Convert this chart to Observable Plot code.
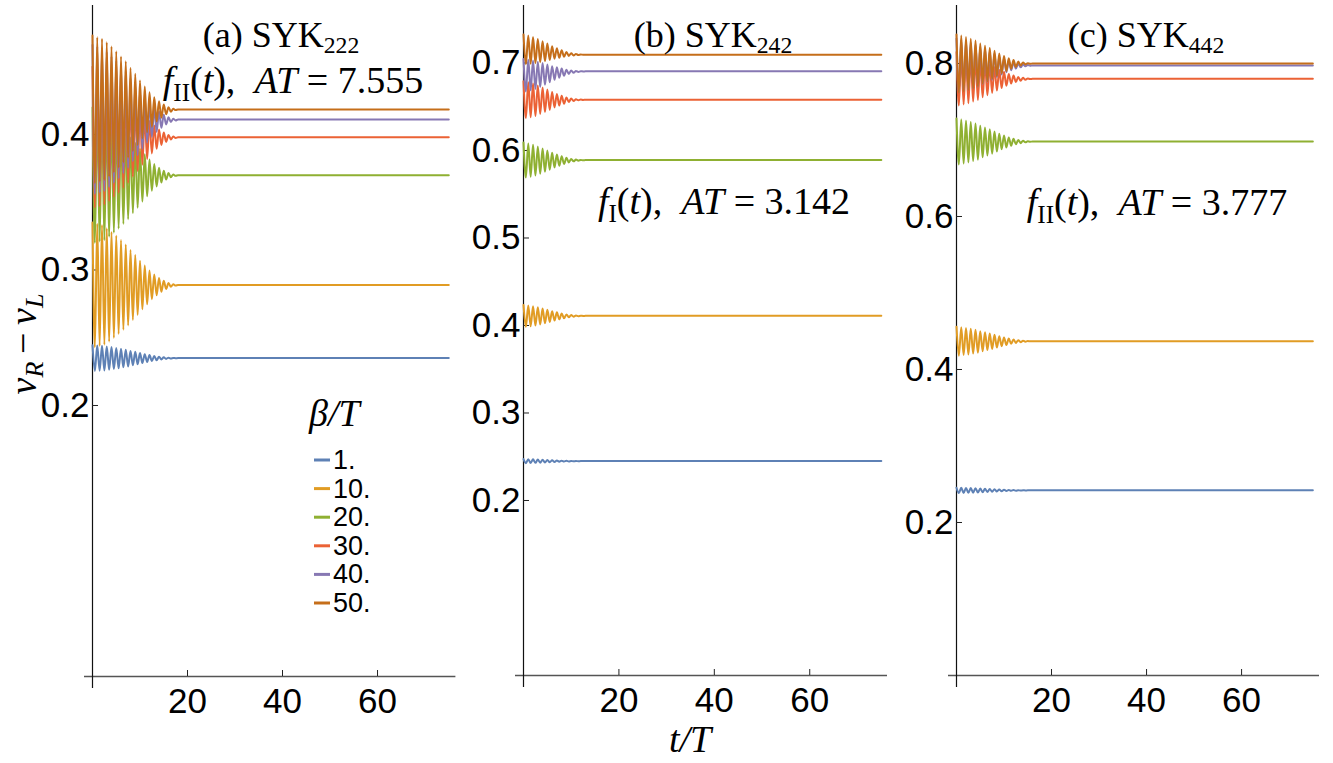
<!DOCTYPE html>
<html>
<head>
<meta charset="utf-8">
<script src="https://cdn.jsdelivr.net/npm/d3@7"></script>
<script src="https://cdn.jsdelivr.net/npm/@observablehq/plot@0.6"></script>
<style>
  html, body { margin: 0; padding: 0; background: #fff; }
  #wrap { position: relative; width: 1333px; height: 763px; overflow: hidden; background: #fff; }
  #wrap svg { position: absolute; left: 0; top: 0; }
</style>
</head>
<body>
<div id="wrap"></div>
<script>
// ---------- data ----------
const betas = ["1.", "10.", "20.", "30.", "40.", "50."];
const colors = ["#5E81B5", "#E19C24", "#8FB032", "#EB6235", "#8778B3", "#C56E1A"];
const xTicks = [20, 40, 60];
const tEnd = 75;

// Panel (a) SYK222 : steady values, oscillation peaks (at t = k) and troughs (at t = k + 1/2)
const aFinal = [0.235, 0.289, 0.370, 0.398, 0.411, 0.4185];
const aHi = [
  [.2445,.2443,.2441,.2436,.2431,.2425,.2418,.2412,.2403,.2396,.2387,.2379,.2372,.2366,.2360,.2356,.2353,.2351],
  [.335,.3341,.3332,.3309,.3281,.3253,.3221,.3189,.3148,.3111,.3069,.3033,.2996,.2966,.2941,.292,.2904,.2895],
  [.42,.419,.418,.4155,.4125,.4095,.406,.4025,.398,.394,.3895,.3855,.3815,.3783,.3755,.3733,.3715,.3705],
  [.45,.449,.4479,.4453,.4422,.4391,.4354,.4318,.4271,.423,.4183,.4141,.41,.4066,.4037,.4014,.3996,.3985],
  [.466,.4649,.4638,.461,.4578,.4545,.4506,.4468,.4418,.4374,.4325,.4281,.4237,.4201,.4171,.4146,.4127,.4116],
  [.473,.4718,.4706,.4681,.465,.4615,.4576,.4541,.4492,.4448,.4399,.4354,.4312,.4275,.4246,.4221,.4202,.419]
];
const aLo = [
  [.2255,.2257,.2259,.2264,.2269,.2275,.2282,.2288,.2297,.2304,.2313,.2321,.2328,.2334,.2340,.2344,.2347,.2349],
  [.243,.2439,.2448,.2471,.2499,.2527,.2559,.2591,.2632,.2669,.2711,.2747,.2784,.2814,.2839,.286,.2876,.2885],
  [.32,.321,.322,.3245,.3275,.3305,.334,.3375,.342,.346,.3505,.3545,.3585,.3617,.3645,.3667,.3685,.3695],
  [.346,.347,.3481,.3507,.3538,.3569,.3606,.3642,.3689,.373,.3777,.3819,.386,.3894,.3923,.3946,.3964,.3975],
  [.356,.3571,.3582,.361,.3642,.3675,.3714,.3752,.3802,.3846,.3895,.3939,.3983,.4019,.4049,.4074,.4093,.4104],
  [.364,.3652,.3664,.3689,.372,.3755,.3794,.3829,.3878,.3922,.3971,.4016,.4058,.4095,.4124,.4149,.4168,.418]
];
const aYTicks = [0.2, 0.3, 0.4];

// Panel (b) SYK242
const bFinal = [0.245, 0.411, 0.589, 0.658, 0.6905, 0.7095];
const bHi = [
  [.2473,.2472,.247,.2468,.2465,.2463,.246,.2457,.2455,.2453,.2452,.2451,.245],
  [.4235,.4229,.422,.4208,.4194,.4179,.4163,.415,.4138,.4126,.4119,.4114,.4111],
  [.609,.608,.6066,.6046,.6024,.6,.5974,.5954,.5934,.5916,.5904,.5896,.5892],
  [.679,.678,.6765,.6744,.6721,.6696,.6668,.6647,.6626,.6607,.6595,.6586,.6582],
  [.7045,.7038,.7028,.7014,.6999,.6982,.6964,.695,.6936,.6923,.6915,.6909,.6906],
  [.7325,.7314,.7297,.7274,.7249,.7222,.7192,.7169,.7146,.7125,.7111,.7102,.7097]
];
const bLo = [
  [.2427,.2428,.243,.2432,.2435,.2437,.244,.2443,.2445,.2447,.2448,.2449,.245],
  [.3985,.3991,.4,.4012,.4026,.4041,.4057,.407,.4082,.4094,.4101,.4106,.4109],
  [.569,.570,.5714,.5734,.5756,.578,.5806,.5826,.5846,.5864,.5876,.5884,.5888],
  [.637,.638,.6395,.6416,.6439,.6464,.6492,.6513,.6534,.6553,.6565,.6574,.6578],
  [.6675,.6687,.6703,.6726,.6751,.6779,.6808,.6831,.6854,.6875,.6889,.6898,.6903],
  [.6985,.6991,.6998,.7009,.7021,.7035,.7049,.706,.7071,.7081,.7087,.7092,.7094]
];
const bYTicks = [0.2, 0.3, 0.4, 0.5, 0.6, 0.7];

// Panel (c) SYK442
const cFinal = [0.242, 0.437, 0.698, 0.780, 0.7975, 0.800];
const cHi = [
  [.2455,.2454,.2452,.245,.2448,.2444,.2441,.2439,.2435,.2432,.2429,.2426,.2424,.2422,.2421,.242,.242],
  [.456,.4552,.4543,.4532,.452,.4501,.4486,.4471,.4454,.4435,.4419,.4404,.4393,.4383,.4377,.4372,.437],
  [.728,.7268,.7253,.7235,.7217,.7187,.7163,.7139,.7112,.7082,.7058,.7034,.7016,.7001,.6991,.6983,.698],
  [.815,.8136,.8119,.8098,.8077,.8042,.8014,.7986,.7954,.7919,.7891,.7863,.7842,.7825,.7812,.7804,.78],
  [.8325,.8311,.8294,.8273,.8252,.8217,.8189,.8161,.8129,.8094,.8066,.8038,.8017,.8,.7987,.7979,.7975],
  [.838,.8365,.8346,.8323,.83,.8262,.8232,.8201,.8167,.8129,.8099,.8068,.8046,.8027,.8013,.8004,.8]
];
const cLo = [
  [.2385,.2386,.2388,.239,.2392,.2396,.2399,.2401,.2405,.2408,.2411,.2414,.2416,.2418,.2419,.242,.242],
  [.418,.4188,.4197,.4208,.422,.4239,.4254,.4269,.4286,.4305,.4321,.4336,.4347,.4357,.4363,.4368,.437],
  [.668,.6692,.6707,.6725,.6743,.6773,.6797,.6821,.6848,.6878,.6902,.6926,.6944,.6959,.6969,.6977,.698],
  [.745,.7464,.7481,.7502,.7523,.7558,.7586,.7614,.7646,.7681,.7709,.7737,.7758,.7775,.7788,.7796,.78],
  [.7625,.7639,.7656,.7677,.7698,.7733,.7761,.7789,.7821,.7856,.7884,.7912,.7933,.795,.7963,.7971,.7975],
  [.762,.7635,.7654,.7677,.77,.7738,.7768,.7799,.7833,.7871,.7901,.7932,.7954,.7973,.7987,.7996,.8]
];
const cYTicks = [0.2, 0.4, 0.6, 0.8];

// ---------- build long tables from the arrays ----------
function buildTable(finals, his, los) {
  const rows = [];
  betas.forEach((b, i) => {
    his[i].forEach((h, k) => {
      rows.push({beta: b, t: k, v: h});
      rows.push({beta: b, t: k + 0.5, v: los[i][k]});
    });
    rows.push({beta: b, t: his[i].length, v: finals[i]});
    rows.push({beta: b, t: tEnd, v: finals[i]});
  });
  return rows;
}

// ---------- layout (pixels) ----------
const W = 1333, H = 763;
const panels = [
  {data: buildTable(aFinal, aHi, aLo), yTicks: aYTicks, left: 92, right: 455.4, top: 5, bottom: 676, xMax: 76.5, yMax: 0.4952},
  {data: buildTable(bFinal, bHi, bLo), yTicks: bYTicks, left: 523, right: 887, top: 5, bottom: 675, xMax: 76.3, yMax: 0.7657},
  {data: buildTable(cFinal, cHi, cLo), yTicks: cYTicks, left: 956, right: 1319, top: 5, bottom: 675, xMax: 76.4, yMax: 0.8758}
];

const wrap = document.getElementById("wrap");

panels.forEach(p => {
  const pxX = (p.right - p.left) / p.xMax;
  const pxY = (p.bottom - p.top) / p.yMax;
  const chart = Plot.plot({
    width: W, height: H,
    marginLeft: p.left, marginRight: W - p.right,
    marginTop: p.top, marginBottom: H - p.bottom,
    style: {background: "transparent", overflow: "visible", fontFamily: "'Liberation Sans', Arial, sans-serif", fontSize: "35px", color: "#000"},
    x: {domain: [0, p.xMax], label: null},
    y: {domain: [0, p.yMax], label: null},
    color: {domain: betas, range: colors},
    marks: [
      Plot.ruleY([0], {x1: -8 / pxX, x2: p.xMax, stroke: "#555", strokeWidth: 1.6}),
      Plot.ruleX([0], {y1: -12 / pxY, y2: p.yMax, stroke: "#111", strokeWidth: 1.2}),
      Plot.axisX({ticks: xTicks, tickSize: -6, tickPadding: 18, tickFormat: d => String(d), label: null, stroke: "#222"}),
      Plot.axisY({ticks: p.yTicks, tickSize: -6, tickPadding: 9, tickFormat: d => d.toFixed(1), label: null, stroke: "#222"}),
      Plot.line(p.data, {x: "t", y: "v", z: "beta", stroke: "beta", curve: "monotone-x", strokeWidth: 2})
    ]
  });
  wrap.appendChild(chart);
});

// ---------- annotations (titles, labels, legend) ----------
const svg = d3.select(wrap).append("svg")
  .attr("width", W).attr("height", H)
  .style("pointer-events", "none");

const serif = "'Liberation Serif', 'Times New Roman', serif";

function rich(x, y, parts, size, subDrop = 0.22) {
  const t = svg.append("text").attr("x", x).attr("y", y)
    .attr("text-anchor", "middle").attr("font-family", serif)
    .attr("font-size", size).attr("fill", "#000");
  let shifted = 0;
  parts.forEach(pt => {
    const sp = t.append("tspan").text(pt.t);
    let dy = 0;
    if (pt.sub && !shifted) { dy = size * subDrop; shifted = dy; }
    else if (!pt.sub && shifted) { dy = -shifted; shifted = 0; }
    if (dy) sp.attr("dy", dy);
    if (pt.sub) sp.attr("font-size", size * 0.66);
    if (pt.i) sp.attr("font-style", "italic");
  });
  return t;
}

// titles
rich(281, 47, [{t: "(a) SYK"}, {t: "222", sub: true}], 36, 0.17);
rich(713, 47, [{t: "(b) SYK"}, {t: "242", sub: true}], 36, 0.17);
rich(1146, 47, [{t: "(c) SYK"}, {t: "442", sub: true}], 36, 0.17);

// formulas
function formula(x, y, sub, val) {
  rich(x, y, [
    {t: "f", i: true}, {t: sub, sub: true}, {t: "("}, {t: "t", i: true}, {t: "),\u2002"},
    {t: "AT", i: true}, {t: "\u2005=\u2005" + val}
  ], 38);
}
formula(293, 93, "II", "7.555");
formula(724, 214, "I", "3.142");
formula(1157, 215, "II", "3.777");

// axis labels
const yl = svg.append("g").attr("transform", "translate(36,344) rotate(-90)");
const ylt = yl.append("text").attr("text-anchor", "middle").attr("font-family", serif).attr("font-size", 38);
ylt.append("tspan").attr("font-style", "italic").text("\u03BD");
ylt.append("tspan").attr("font-style", "italic").attr("font-size", 26).attr("dy", 7).text("R");
ylt.append("tspan").attr("dy", -7).text("\u2009\u2212\u2009");
ylt.append("tspan").attr("font-style", "italic").text("\u03BD");
ylt.append("tspan").attr("font-style", "italic").attr("font-size", 26).attr("dy", 7).text("L");

svg.append("text").attr("x", 690).attr("y", 752).attr("text-anchor", "middle")
  .attr("font-family", serif).attr("font-size", 38).attr("font-style", "italic").text("t/T");

// legend
svg.append("text").attr("x", 309).attr("y", 426).attr("font-family", serif)
  .attr("font-size", 38).attr("font-style", "italic").text("\u03B2/T");
betas.forEach((b, i) => {
  const yy = 460 + i * 28.6;
  svg.append("line").attr("x1", 314).attr("x2", 330).attr("y1", yy).attr("y2", yy)
    .attr("stroke", colors[i]).attr("stroke-width", 3);
  svg.append("text").attr("x", 333).attr("y", yy + 9).attr("font-family", "'Liberation Sans', Arial, sans-serif")
    .attr("font-size", 27).attr("fill", "#000").text(b);
});
</script>
</body>
</html>
